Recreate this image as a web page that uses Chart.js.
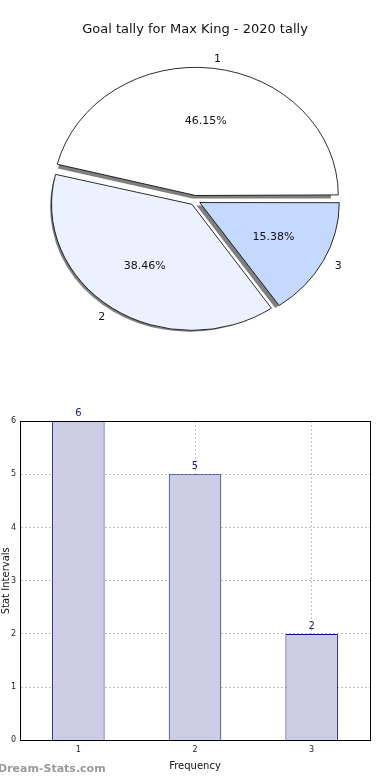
<!DOCTYPE html>
<html>
<head>
<meta charset="utf-8">
<title>Goal tally for Max King - 2020 tally</title>
<script src="https://cdn.jsdelivr.net/npm/chart.js@4.4.0/dist/chart.umd.min.js"></script>
<style>
  html, body { margin: 0; padding: 0; background: #fff; }
  body { width: 390px; height: 780px; position: relative; overflow: hidden; font-family: "DejaVu Sans", sans-serif; }
  #pieBox { position: absolute; left: 0; top: 0; width: 390px; height: 370px; }
  #barBox { position: absolute; left: 0; top: 395px; width: 390px; height: 385px; }
  #brand { position: absolute; left: -2px; top: 762px; font: bold 11px "DejaVu Sans", sans-serif; color: #999; }
</style>
</head>
<body>
<div id="pieBox"><canvas id="pieChart"></canvas></div>
<div id="barBox"><canvas id="barChart"></canvas></div>
<div id="brand">Dream-Stats.com</div>
<script>
// data
const categories = ['1', '2', '3'];
const goalCounts = [6, 5, 2];
const sliceColors = ['#ffffff', '#ebf1fe', '#c5d8fe'];
const chartTitle = 'Goal tally for Max King - 2020 tally';
const xTitle = 'Frequency';
const yTitle = 'Stat Intervals';

Chart.defaults.font.family = '"DejaVu Sans", sans-serif';
Chart.defaults.animation = false;

// matplotlib draws the pie counter-clockwise from 3 o'clock, chart.js goes clockwise,
// so feed the slices in reverse order and start at 90deg
const pieLabels = categories.slice().reverse();
const pieValues = goalCounts.slice().reverse();
const pieColors = sliceColors.slice().reverse();
const pieTotal = goalCounts.reduce((a, b) => a + b, 0);

// the original pie is a bit wider than tall
const stretchX = 1.08, stretchY = 0.97;

const pieStretch = {
    id: 'pieStretch',
    beforeDatasetsDraw(chart) {
        const arc = chart.getDatasetMeta(0).data[0];
        const ctx = chart.ctx;
        ctx.save();
        ctx.translate(arc.x, arc.y);
        ctx.scale(stretchX, stretchY);
        ctx.translate(-arc.x, -arc.y);
    },
    afterDatasetsDraw(chart) {
        chart.ctx.restore();
    }
};

const pieShadow = {
    id: 'pieShadow',
    beforeDatasetsDraw(chart) {
        const ctx = chart.ctx;
        chart.getDatasetMeta(0).data.forEach(arc => {
            const mid = (arc.startAngle + arc.endAngle) / 2;
            const off = (arc.options.offset || 0) / 4;
            const cx = arc.x + Math.cos(mid) * off - 3;
            const cy = arc.y + Math.sin(mid) * off + 3;
            ctx.save();
            ctx.fillStyle = 'rgba(0,0,0,0.5)';
            ctx.beginPath();
            ctx.moveTo(cx, cy);
            ctx.arc(cx, cy, arc.outerRadius, arc.startAngle, arc.endAngle);
            ctx.closePath();
            ctx.fill();
            ctx.restore();
        });
    }
};

const pieText = {
    id: 'pieText',
    afterDatasetsDraw(chart) {
        const ctx = chart.ctx;
        ctx.save();
        ctx.font = '11px "DejaVu Sans", sans-serif';
        ctx.fillStyle = '#111';
        ctx.textBaseline = 'middle';
        chart.getDatasetMeta(0).data.forEach((arc, i) => {
            const mid = (arc.startAngle + arc.endAngle) / 2;
            const off = (arc.options.offset || 0) / 4;
            const r = arc.outerRadius;
            const pct = (pieValues[i] / pieTotal * 100).toFixed(2) + '%';
            ctx.textAlign = 'center';
            ctx.fillText(pct, arc.x + Math.cos(mid) * (off + r * 0.6) * stretchX, arc.y + Math.sin(mid) * (off + r * 0.6) * stretchY);
            ctx.textAlign = Math.cos(mid) >= 0 ? 'left' : 'right';
            ctx.fillText(pieLabels[i], arc.x + Math.cos(mid) * (off + r * 1.1) * stretchX, arc.y + Math.sin(mid) * (off + r * 1.1) * stretchY);
        });
        ctx.restore();
    }
};

new Chart(document.getElementById('pieChart'), {
    type: 'pie',
    data: {
        labels: pieLabels,
        datasets: [{
            data: pieValues,
            backgroundColor: pieColors,
            borderColor: '#000',
            borderWidth: 0.8,
            offset: 20
        }]
    },
    options: {
        responsive: true,
        maintainAspectRatio: false,
        rotation: 90,
        layout: { padding: { top: 0, bottom: 31 } },
        plugins: {
            legend: { display: false },
            tooltip: { enabled: false },
            title: {
                display: true,
                text: chartTitle,
                color: '#111',
                font: { size: 13, weight: 'normal' },
                padding: { top: 22, bottom: 24 }
            }
        }
    },
    plugins: [pieStretch, pieShadow, pieText]
});

const plotFrame = {
    id: 'plotFrame',
    afterDraw(chart) {
        const a = chart.chartArea;
        const ctx = chart.ctx;
        ctx.save();
        ctx.strokeStyle = '#000';
        ctx.lineWidth = 1;
        ctx.strokeRect(Math.round(a.left) + 0.5, Math.round(a.top) + 0.5, Math.round(a.right - a.left), Math.round(a.bottom - a.top));
        ctx.restore();
    }
};

const barValues = {
    id: 'barValues',
    afterDatasetsDraw(chart) {
        const ctx = chart.ctx;
        ctx.save();
        ctx.font = '10px "DejaVu Sans", sans-serif';
        ctx.fillStyle = '#1a1a8c';
        ctx.textAlign = 'center';
        ctx.textBaseline = 'bottom';
        chart.getDatasetMeta(0).data.forEach((bar, i) => {
            ctx.fillText(String(goalCounts[i]), bar.x, bar.y - 3);
        });
        ctx.restore();
    }
};

new Chart(document.getElementById('barChart'), {
    type: 'bar',
    data: {
        labels: categories,
        datasets: [{
            data: goalCounts,
            backgroundColor: '#ccccE4',
            borderColor: '#10108a',
            borderWidth: 1,
            barPercentage: 0.45,
            categoryPercentage: 1
        }]
    },
    options: {
        responsive: true,
        maintainAspectRatio: false,
        layout: { padding: { top: 26, right: 20, bottom: 8, left: 0 } },
        plugins: {
            legend: { display: false },
            tooltip: { enabled: false }
        },
        scales: {
            x: {
                offset: true,
                grid: { offset: false, color: '#bdbdbd', drawTicks: false },
                border: { color: '#000', dash: [2, 2] },
                ticks: { color: '#222', font: { size: 8 }, padding: 5 },
                title: { display: true, text: xTitle, color: '#111', font: { size: 10 }, padding: { top: 0, bottom: 0 } }
            },
            y: {
                min: 0,
                max: 6,
                grid: { color: '#bdbdbd', drawTicks: false },
                border: { color: '#000', dash: [2, 2] },
                ticks: { stepSize: 1, color: '#222', font: { size: 8 }, padding: 4 },
                title: { display: true, text: yTitle, color: '#111', font: { size: 10 }, padding: 0 },
                afterFit(scale) { scale.width = 20; }
            }
        }
    },
    plugins: [plotFrame, barValues]
});
</script>
</body>
</html>
